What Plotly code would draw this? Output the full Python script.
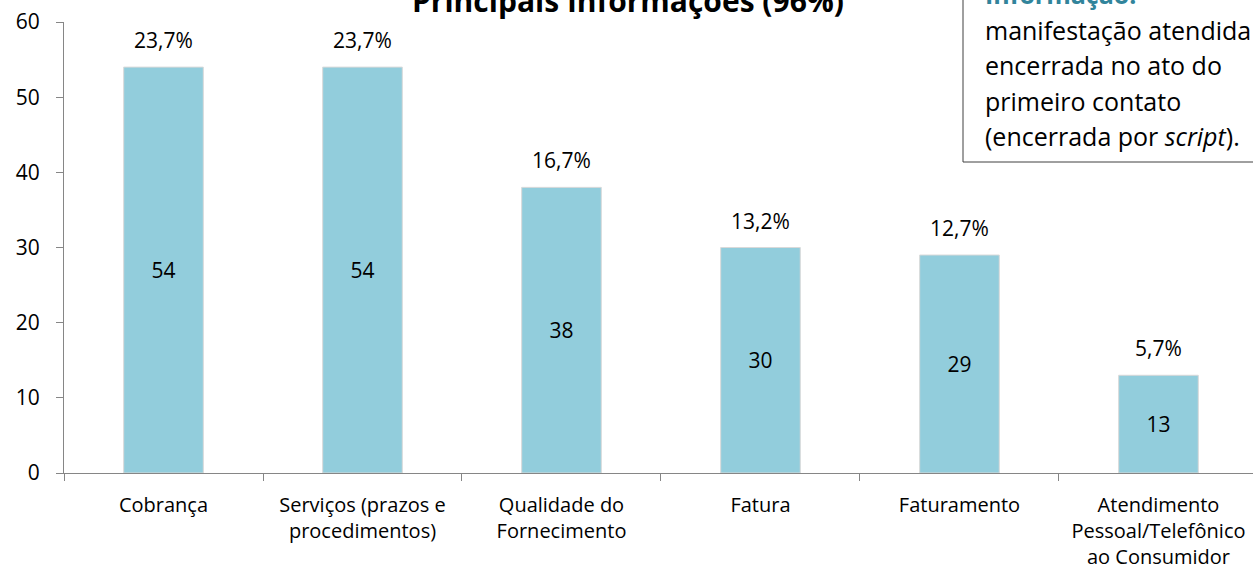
import plotly.graph_objects as go

categories = ["Cobrança", "Serviços (prazos e<br>procedimentos)", "Qualidade do<br>Fornecimento",
              "Fatura", "Faturamento", "Atendimento<br>Pessoal/Telefônico<br>ao Consumidor"]
counts = [54, 54, 38, 30, 29, 13]
percents = ["23,7%", "23,7%", "16,7%", "13,2%", "12,7%", "5,7%"]
y_ticks = [0, 10, 20, 30, 40, 50, 60]
title_text = "Principais Informações (96%)"
box_title = "Informação:"
box_lines = ["manifestação atendida e", "encerrada no ato do", "primeiro contato",
             "(encerrada por <i>script</i>)."]

FONT = "Open Sans"
L, T, B, W, H = 64, 22, 100, 1253, 573
PW, PH = 1189, 451


def px(x):
    return (x - L) / PW


def py(y):
    return (473 - y) / PH


fig = go.Figure()
fig.add_trace(go.Bar(
    x=categories, y=counts, width=0.4,
    marker=dict(color="#92CDDC", line=dict(color="#D9D9D9", width=1)),
    text=[str(c) for c in counts], textposition="inside", insidetextanchor="middle",
    textfont=dict(family=FONT, size=21, color="#000000"),
    hoverinfo="skip",
))
for c, v, p in zip(categories, counts, percents):
    fig.add_annotation(x=c, y=v, text=p, showarrow=False, yanchor="middle", yshift=27,
                       font=dict(family=FONT, size=21, color="#000000"))

fig.add_annotation(x=px(628), xref="paper", y=py(1), yref="paper", text="<b>" + title_text + "</b>",
                   showarrow=False, yanchor="middle", font=dict(family=FONT, size=30, color="#000000"))

# text box
fig.add_shape(type="rect", xref="paper", yref="paper", x0=px(963), x1=1.05,
              y0=py(162), y1=1.2, line=dict(color="#404040", width=1), fillcolor="white", layer="above")
fig.add_annotation(xref="paper", yref="paper", x=px(983), y=py(-6),
                   text="<b>" + box_title + "</b>", showarrow=False, xanchor="left", yanchor="middle",
                   font=dict(family=FONT, size=25, color="#31849B"))
for i, line in enumerate(box_lines):
    fig.add_annotation(xref="paper", yref="paper", x=px(983), y=py(30 + 35.3 * i),
                       text=line, showarrow=False, xanchor="left", yanchor="middle",
                       font=dict(family=FONT, size=25, color="#000000"))

fig.update_layout(
    width=W, height=H,
    margin=dict(l=L, r=0, t=T, b=B, autoexpand=False),
    plot_bgcolor="white", paper_bgcolor="white",
    showlegend=False,
    font=dict(family=FONT, color="#000000"),
)
fig.update_xaxes(
    range=[-0.5, 5.475], showline=True, linecolor="#868686", linewidth=1,
    ticks="outside", tickson="boundaries", ticklen=7, tickcolor="#868686",
    tickfont=dict(family=FONT, size=20, color="#000000"), showgrid=False, automargin=False,
    ticklabelstandoff=14,
)
fig.update_yaxes(
    range=[0, 60], tickvals=y_ticks, showline=True, linecolor="#868686", linewidth=1,
    ticks="outside", ticklen=7, tickcolor="#868686", showgrid=False, zeroline=False,
    tickfont=dict(family=FONT, size=21, color="#000000"), automargin=False, ticklabelstandoff=12,
)
fig.write_html("out.html", config={"displayModeBar": False},
               post_script="document.body.style.margin='0';document.body.style.overflow='hidden';")
